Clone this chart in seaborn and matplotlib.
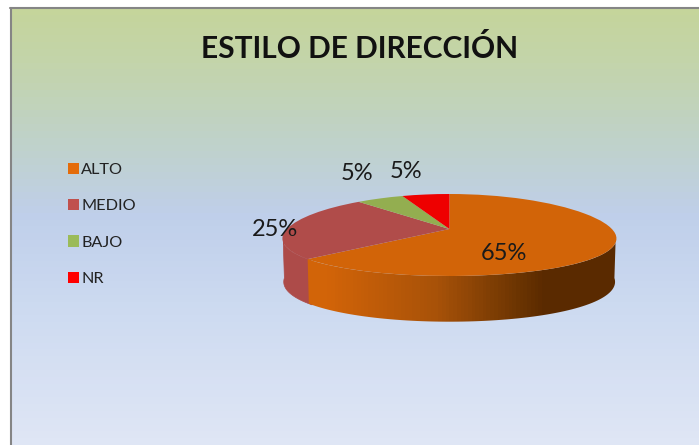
import matplotlib
matplotlib.use('Agg')
import matplotlib.pyplot as plt
from matplotlib.colors import LinearSegmentedColormap
from matplotlib.patches import Patch, Polygon
import numpy as np
import seaborn as sns

title = 'ESTILO DE DIRECCIÓN'
categories = ['ALTO', 'MEDIO', 'BAJO', 'NR']
values = [65, 25, 5, 5]

top_colors = ['#D26408', '#B04C4A', '#93AE50', '#EE0000']
legend_colors = ['#E46C0A', '#C0504D', '#9BBB59', '#FF0000']

sns.set_theme(style='white')
plt.rcParams['font.family'] = ['Lato', 'DejaVu Sans']

W, H = 699, 445
fig = plt.figure(figsize=(W / 100, H / 100), dpi=100, facecolor='white')

# background panel with the vertical gradient
bg = fig.add_axes([11 / W, 0, (W - 11) / W, (H - 8) / H])
bg_cmap = LinearSegmentedColormap.from_list('bg', [
    (0.00, '#C5D59B'), (0.14, '#C3D4AE'), (0.33, '#BFD2CF'),
    (0.47, '#BFCFEA'), (0.70, '#CEDBF1'), (1.00, '#DFE6F5')])
bg.imshow(np.linspace(0, 1, 64).reshape(-1, 1), cmap=bg_cmap, aspect='auto', vmin=0, vmax=1)
bg.axis('off')
fig.add_artist(plt.Line2D([11 / W, 11 / W], [0, (H - 8) / H], color='#858585', lw=1.5))
fig.add_artist(plt.Line2D([10 / W, 1], [(H - 8) / H, (H - 8) / H], color='#858585', lw=1.5))

fig.text(360 / W, 1 - 49 / H, title, ha='center', va='center',
         fontsize=21.5, fontweight='bold', color='#111111')

# pie axes: x unit = top ellipse rx, y unit = top ellipse ry
rx, ry = 166.4, 41.0
cx, cy = 449.4, 235.0
depth = 43.0
ax = fig.add_axes([(cx - rx) / W, (H - 322) / H, 2 * rx / W, 128 / H])
wedges, texts, autotexts = ax.pie(values, colors=top_colors, startangle=90, counterclock=False,
                                  autopct='%d%%', wedgeprops={'linewidth': 0},
                                  textprops={'fontsize': 17, 'color': '#1a1a1a'})
ax.set_aspect('auto')
ax.axis('off')

persp = 0.09      # front of the pie looks a bit wider than the back
apex_up = 6 / ry  # the apex sits above the ellipse centre


def warp(x, y):
    return x * (1 - persp * y), y


for w in wedges:
    verts = w.get_path().vertices
    apex = (np.abs(verts[:, 0]) < 1e-9) & (np.abs(verts[:, 1]) < 1e-9)
    verts[:, 0], verts[:, 1] = warp(verts[:, 0], verts[:, 1])
    verts[apex, 1] += apex_up


def wall(t_from, t_to):
    t = np.radians(np.linspace(t_from, t_to, 80))
    x, y = warp(np.cos(t), np.sin(t))
    x2 = x * 165 / rx
    y2 = y * 43.7 / ry - depth / ry
    return np.column_stack([np.r_[x, x2[::-1]], np.r_[y, y2[::-1]]])


alto_t = wedges[0].theta1
# medio wall runs a little under the alto wall so no seam shows
medio_wall = Polygon(wall(alto_t + 2, -180), closed=True, fc='#AD4B49', ec='#AD4B49', lw=0.5, zorder=0)
ax.add_patch(medio_wall)

alto_wall = Polygon(wall(0, alto_t), closed=True, fc='none', ec='none', zorder=0.5)
ax.add_patch(alto_wall)
wall_cmap = LinearSegmentedColormap.from_list('wall', [
    (0.00, '#D26408'), (0.13, '#D26408'), (0.46, '#A85209'), (0.70, '#6E3602'),
    (0.79, '#5A2A00'), (1.00, '#5A2A00')])
im = ax.imshow(np.linspace(0, 1, 90).reshape(1, -1), cmap=wall_cmap, aspect='auto', vmin=0, vmax=1,
               extent=[-1, 1, -1 - 46 / ry, 1], zorder=0.5)
im.set_clip_path(alto_wall)
ax.set_xlim(-1, 1)
ax.set_ylim(-1 - 46 / ry, 1)

# percentage labels, placed by hand like the original
label_px = [(504, 254), (275, 230), (357, 173), (406, 172)]
for txt, (px, py) in zip(autotexts, label_px):
    txt.set_position(((px - cx) / rx, (cy - py) / ry))
    txt.set_ha('center')
    txt.set_va('center')
    txt.set_clip_on(False)
    txt.set_zorder(5)

handles = [Patch(facecolor=c, edgecolor='none') for c in legend_colors]
fig.legend(handles, categories, loc='upper left', bbox_to_anchor=(53 / W, 1 - 148 / H), frameon=False,
           fontsize=11.7, labelspacing=1.36, handlelength=0.68, handleheight=0.68,
           handletextpad=0.15, labelcolor='#222222', borderpad=0.4)

fig.savefig('out.png', dpi=100)
